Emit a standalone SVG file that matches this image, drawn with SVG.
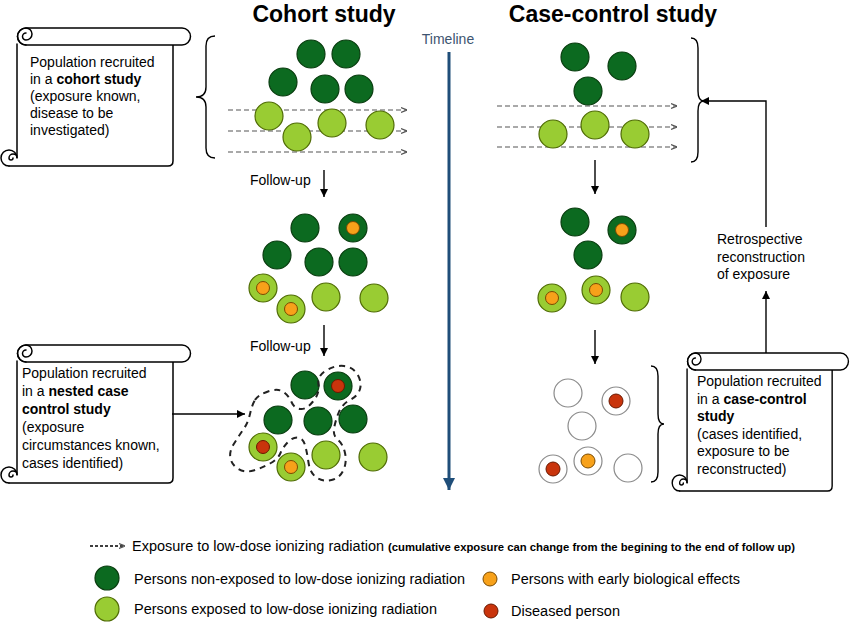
<svg xmlns="http://www.w3.org/2000/svg" xmlns:xlink="http://www.w3.org/1999/xlink" width="850" height="625" viewBox="0 0 850 625">
<style>
text{font-family:"Liberation Sans",Arial,sans-serif;fill:#000}
.t14{font-size:14px}
.title{font-size:23px;font-weight:bold;text-anchor:middle}
.b{font-weight:bold}
.scr{fill:#fff;stroke:#000;stroke-width:1.5;stroke-linejoin:round}
.scrl{fill:none;stroke:#000;stroke-width:1.5;stroke-linecap:round}
.dk{fill:#0c6a20;stroke:#0a3d10;stroke-width:1.2}
.lt{fill:#99cc33;stroke:#4f6b05;stroke-width:1.2}
.wh{fill:#fff;stroke:#8a8a8a;stroke-width:1.2}
.or{fill:#f7a11a;stroke:#7a4a00;stroke-width:1}
.rd{fill:#c9340c;stroke:#6a1800;stroke-width:1}
.ar{fill:none;stroke:#000;stroke-width:1.4}
.da{fill:none;stroke:#555;stroke-width:1.2;stroke-dasharray:5,3}
.br{fill:none;stroke:#000;stroke-width:1.4}
.blob{fill:none;stroke:#222;stroke-width:2;stroke-dasharray:6,5}
</style>
<defs>
<marker id="ah" viewBox="0 0 10 10" refX="10" refY="5" markerWidth="6" markerHeight="6" orient="auto"><path d="M0,0 L10,5 L0,10 z" fill="#000"/></marker>
<marker id="ahg" viewBox="0 0 10 10" refX="10" refY="5" markerWidth="5" markerHeight="5" orient="auto"><path d="M0,1 L10,5 L0,9" fill="none" stroke="#555" stroke-width="2"/></marker>
<marker id="ahb" viewBox="0 0 10 10" refX="10" refY="5" markerWidth="4" markerHeight="4" orient="auto"><path d="M0,0 L10,5 L0,10 z" fill="#1f4e79"/></marker>
<g id="scroll">
<path class="scrl" d="M-1,16 V130"/>
<path class="scrl" d="M-9,138 H150 Q155,138 155,133 V17"/>
<path class="scr" d="M8,0 H164 A8.5,8.5 0 0 1 164,17 H8 A8.5,8.5 0 0 1 8,0 Z"/>
<path class="scrl" d="M8,17 A8.5,8.5 0 0 1 8,0 A6,6 0 0 1 8,12 A3.5,3.5 0 0 1 8,5"/>
<path class="scrl" d="M-9,138 A8,8 0 1 1 -1,130 A4,4 0 0 0 -9,130 A2,2 0 0 0 -5,130"/>
</g>
</defs>
<rect width="850" height="625" fill="#fff"/>

<text class="title" x="324" y="22">Cohort study</text>
<text class="title" x="613" y="22">Case-control study</text>
<text x="448" y="44" style="font-size:14px;fill:#3d5470;text-anchor:middle">Timeline</text>

<g id="connectors">
<line x1="449" y1="52" x2="449" y2="490" stroke="#1f4e79" stroke-width="3" marker-end="url(#ahb)"/>
<path class="da" d="M228,110 H407" marker-end="url(#ahg)"/>
<path class="da" d="M228,131 H407" marker-end="url(#ahg)"/>
<path class="da" d="M228,152 H407" marker-end="url(#ahg)"/>
<path class="da" d="M497,106 H677" marker-end="url(#ahg)"/>
<path class="da" d="M497,127 H677" marker-end="url(#ahg)"/>
<path class="da" d="M497,147 H677" marker-end="url(#ahg)"/>
<path class="ar" d="M324,170 V197" marker-end="url(#ah)"/>
<path class="ar" d="M324,325 V356" marker-end="url(#ah)"/>
<path class="ar" d="M595,160 V194" marker-end="url(#ah)"/>
<path class="ar" d="M595,330 V364" marker-end="url(#ah)"/>
<path class="ar" d="M172,414 H245" marker-end="url(#ah)"/>
<path class="ar" d="M766,227 V101 H701" marker-end="url(#ah)"/>
<path class="ar" d="M766,353 V291" marker-end="url(#ah)"/>
<path class="br" d="M215,36 Q206,36 206,46 V87 Q206,97 196,97 Q206,97 206,107 V148 Q206,158 215,158"/>
<path class="br" d="M691,38 Q698,38 698,48 V91 Q698,101 704,101 Q698,101 698,111 V152 Q698,162 691,162"/>
<path class="br" d="M651,366 Q658,366 658,376 V414 Q658,424 664,424 Q658,424 658,434 V472 Q658,482 651,482"/>
</g>

<g id="scroll-cohort">
<use xlink:href="#scroll" transform="translate(18,28)"/>
<text class="t14" x="30" y="67">Population recruited</text>
<text class="t14" x="30" y="84">in a <tspan class="b">cohort study</tspan></text>
<text class="t14" x="30" y="101">(exposure known,</text>
<text class="t14" x="30" y="118">disease to be</text>
<text class="t14" x="30" y="135">investigated)</text>
</g>

<g id="scroll-nested">
<use xlink:href="#scroll" transform="translate(18,345)"/>
<text class="t14" x="22" y="378">Population recruited</text>
<text class="t14" x="22" y="396">in a <tspan class="b">nested case</tspan></text>
<text class="t14" x="22" y="414" font-weight="bold">control study</text>
<text class="t14" x="22" y="432">(exposure</text>
<text class="t14" x="22" y="450">circumstances known,</text>
<text class="t14" x="22" y="468">cases identified)</text>
</g>

<g id="scroll-casecontrol">
<use xlink:href="#scroll" transform="translate(688,353) scale(0.93,1)"/>
<text class="t14" x="697" y="386">Population recruited</text>
<text class="t14" x="697" y="403.5">in a <tspan class="b">case-control</tspan></text>
<text class="t14" x="697" y="421" font-weight="bold">study</text>
<text class="t14" x="697" y="438.5">(cases identified,</text>
<text class="t14" x="697" y="456">exposure to be</text>
<text class="t14" x="697" y="473.5">reconstructed)</text>
</g>

<g id="cohort-start">
<circle class="dk" cx="311" cy="54" r="14"/>
<circle class="dk" cx="346" cy="54" r="14"/>
<circle class="dk" cx="283" cy="82" r="14"/>
<circle class="dk" cx="325" cy="89" r="14"/>
<circle class="dk" cx="359" cy="89" r="14"/>
<circle class="lt" cx="269" cy="116" r="14"/>
<circle class="lt" cx="297" cy="137" r="14"/>
<circle class="lt" cx="332" cy="123" r="14"/>
<circle class="lt" cx="380" cy="125" r="14"/>
</g>
<text class="t14" x="250" y="185">Follow-up</text>

<g id="cohort-mid">
<circle class="dk" cx="305" cy="228" r="14"/>
<circle class="dk" cx="353" cy="228" r="14"/>
<circle class="or" cx="353" cy="228" r="6.5"/>
<circle class="dk" cx="277" cy="255" r="14"/>
<circle class="dk" cx="319" cy="262" r="14"/>
<circle class="dk" cx="353" cy="262" r="14"/>
<circle class="lt" cx="263" cy="288" r="14"/>
<circle class="or" cx="263" cy="288" r="6.5"/>
<circle class="lt" cx="291" cy="309" r="14"/>
<circle class="or" cx="291" cy="309" r="6.5"/>
<circle class="lt" cx="326" cy="297" r="14"/>
<circle class="lt" cx="374" cy="298" r="14"/>
</g>
<text class="t14" x="250" y="351">Follow-up</text>

<g id="cohort-end">
<circle class="dk" cx="305" cy="385" r="14"/>
<circle class="dk" cx="338" cy="386" r="14"/>
<circle class="rd" cx="338" cy="386" r="6.5"/>
<circle class="dk" cx="278" cy="420" r="14"/>
<circle class="dk" cx="318" cy="421" r="14"/>
<circle class="dk" cx="353" cy="419" r="14"/>
<circle class="lt" cx="263" cy="447" r="14"/>
<circle class="rd" cx="263" cy="447" r="6.5"/>
<circle class="lt" cx="291" cy="467" r="14"/>
<circle class="or" cx="291" cy="467" r="6.5"/>
<circle class="lt" cx="326" cy="455" r="14"/>
<circle class="lt" cx="373" cy="457" r="14"/>
<path class="blob" d="M255,400 Q258,395 268,391.5 Q278,388 283.5,392 Q289,396 291.5,402 Q294,408 300,409 Q306,410 313,401.5 Q320,393 318.5,384.5 Q317,376 326,370.5 Q335,365 344,366 Q353,367 357.5,374.5 Q362,382 360,389 Q358,396 350,400 Q342,404 338.5,413 Q335,422 334,429 Q333,436 338,440 Q343,444 345,453 Q347,462 343.5,470 Q340,478 331.5,480 Q323,482 316.5,477.5 Q310,473 308.5,462.5 Q307,452 305,445 Q303,438 298,437.5 Q293,437 288,442 Q283,447 280.5,453 Q278,459 270,463.5 Q262,468 253.5,470.5 Q245,473 238.5,469 Q232,465 230.5,458.5 Q229,452 233.5,444.5 Q238,437 243,430 Q248,423 250,414 Q252,405 255,400 Z"/>
</g>

<g id="cc-start">
<circle class="dk" cx="575" cy="57" r="14"/>
<circle class="dk" cx="622" cy="66" r="14"/>
<circle class="dk" cx="588" cy="91" r="14"/>
<circle class="lt" cx="553" cy="134" r="14"/>
<circle class="lt" cx="595" cy="125" r="14"/>
<circle class="lt" cx="635" cy="134" r="14"/>
</g>

<g id="cc-mid">
<circle class="dk" cx="575" cy="222" r="14"/>
<circle class="dk" cx="622" cy="230" r="14"/>
<circle class="or" cx="622" cy="230" r="6.5"/>
<circle class="dk" cx="588" cy="255" r="14"/>
<circle class="lt" cx="552" cy="298" r="14"/>
<circle class="or" cx="552" cy="298" r="6.5"/>
<circle class="lt" cx="596" cy="290" r="14"/>
<circle class="or" cx="596" cy="290" r="6.5"/>
<circle class="lt" cx="635" cy="297" r="14"/>
</g>

<g id="retro-label">
<text class="t14" x="717" y="244">Retrospective</text>
<text class="t14" x="717" y="262">reconstruction</text>
<text class="t14" x="717" y="279">of exposure</text>
</g>

<g id="cc-end">
<circle class="wh" cx="568" cy="393" r="14"/>
<circle class="wh" cx="616" cy="401" r="14"/>
<circle class="rd" cx="616" cy="401" r="7"/>
<circle class="wh" cx="582" cy="426" r="14"/>
<circle class="wh" cx="553" cy="469" r="14"/>
<circle class="rd" cx="553" cy="469" r="7"/>
<circle class="wh" cx="588" cy="461" r="14"/>
<circle class="or" cx="588" cy="461" r="7"/>
<circle class="wh" cx="628" cy="468" r="14"/>
</g>

<g id="legend">
<path class="da" d="M90,546 H125" style="stroke:#000;stroke-width:1.3;stroke-dasharray:3,2" marker-end="url(#ahg)"/>
<text class="t14" x="132" y="551" textLength="252" lengthAdjust="spacingAndGlyphs">Exposure to low-dose ionizing radiation</text>
<text x="388" y="551" style="font-size:11px;font-weight:bold" textLength="407" lengthAdjust="spacingAndGlyphs">(cumulative exposure can change from the begining to the end of follow up)</text>
<circle class="dk" cx="107" cy="578" r="12"/>
<text class="t14" x="134" y="584" textLength="331" lengthAdjust="spacingAndGlyphs">Persons non-exposed to low-dose ionizing radiation</text>
<circle class="lt" cx="107" cy="609" r="12"/>
<text class="t14" x="134" y="614" textLength="303" lengthAdjust="spacingAndGlyphs">Persons exposed to low-dose ionizing radiation</text>
<circle class="or" cx="490" cy="579" r="7"/>
<text class="t14" x="511" y="584" textLength="229" lengthAdjust="spacingAndGlyphs">Persons with early biological effects</text>
<circle class="rd" cx="491" cy="611" r="7"/>
<text class="t14" x="511" y="616" textLength="109" lengthAdjust="spacingAndGlyphs">Diseased person</text>
</g>
</svg>
